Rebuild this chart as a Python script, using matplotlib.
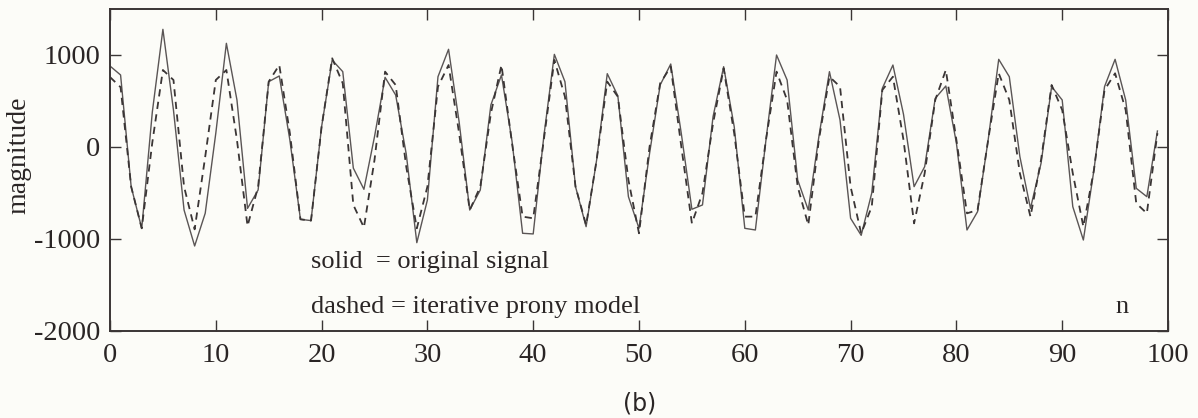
import numpy as np
import matplotlib
matplotlib.use("Agg")
import matplotlib.pyplot as plt

# sample index
n = list(range(100))

# original signal (solid)
original = [
    880, 783, -431, -884, 380, 1279, 400, -685, -1076, -720,
    150, 1127, 511, -667, -467, 710, 772, 76, -786, -800,
    221, 945, 819, -230, -460, 112, 757, 565, -76, -1040,
    -576, 764, 1062, 272, -685, -467, 457, 783, 62, -938,
    -945, 112, 1007, 710, -431, -866, -138, 797, 556, -540,
    -884, -69, 674, 902, 145, -677, -630, 330, 873, 221,
    -884, -902, 76, 1000, 728, -359, -685, 112, 819, 293,
    -775, -960, -500, 638, 891, 355, -431, -214, 529, 663,
    43, -902, -703, 76, 953, 764, -105, -667, -178, 656,
    511, -648, -1011, -250, 656, 953, 511, -449, -540, 174,
]

# iterative prony model (dashed)
prony = [
    760, 650, -431, -884, 50, 837, 728, -431, -895, -105,
    728, 837, 76, -859, -431, 710, 891, 150, -786, -800,
    221, 964, 692, -630, -875, -141, 819, 674, -214, -884,
    -431, 656, 891, 148, -685, -431, 366, 891, 40, -757,
    -775, 76, 946, 547, -431, -848, -138, 710, 547, -359,
    -938, 4, 692, 873, 4, -830, -500, 257, 855, 148,
    -757, -757, 76, 819, 511, -431, -848, 76, 764, 656,
    -431, -940, -648, 620, 764, 76, -830, -286, 511, 837,
    76, -721, -685, 76, 801, 511, -286, -757, -141, 674,
    402, -286, -866, -250, 620, 801, 402, -612, -721, 150,
]

xticks = [0, 10, 20, 30, 40, 50, 60, 70, 80, 90, 100]
yticks = [-2000, -1000, 0, 1000]

plt.rcParams['font.family'] = ['Liberation Serif', 'DejaVu Serif']

fig = plt.figure(figsize=(11.98, 4.18), dpi=100)
fig.patch.set_facecolor('#fcfcf8')
ax = fig.add_axes([110/1198, 1 - 331/418, (1168 - 110)/1198, (331 - 9)/418])
ax.set_facecolor('#fcfcf8')

ax.plot(n, original, '-', color='#5a5555', lw=1.0)
ax.plot(n, prony, '--', color='#3a3535', lw=1.3, dashes=(4, 3))

ax.set_xlim(0, 100)
ax.set_ylim(-2000, 1500)
ax.set_xticks(xticks)
ax.set_yticks(yticks)
ax.set_xticklabels([str(t) for t in xticks])
ax.set_yticklabels([str(t) for t in yticks])
ax.tick_params(direction='in', length=8, width=1.0, colors='#3a3535',
               labelsize=20.5, top=True, right=True)
ax.tick_params(axis='x', pad=9)
ax.tick_params(axis='y', pad=7)
for lab in ax.get_xticklabels() + ax.get_yticklabels():
    lab.set_color('#2a2525')
for s in ax.spines.values():
    s.set_color('#3a3535')
    s.set_linewidth(1.4)

ax.set_ylabel('magnitude', fontsize=20, color='#2a2525')
ax.yaxis.set_label_coords(-0.074, 0.547)

ax.text(19, -1250, 'solid  = original signal', fontsize=19, color='#2a2525',
        ha='left', va='center')
ax.text(19, -1740, 'dashed = iterative prony model', fontsize=19, color='#2a2525',
        ha='left', va='center')
ax.text(95.7, -1740, 'n', fontsize=19, color='#2a2525', ha='center', va='center')

fig.text(640/1198, 1 - 404/418, '(b)', fontsize=17, color='#2a2525',
         ha='center', va='center', family=['DejaVu Sans'])

fig.savefig('out.png', dpi=100, facecolor=fig.get_facecolor())
